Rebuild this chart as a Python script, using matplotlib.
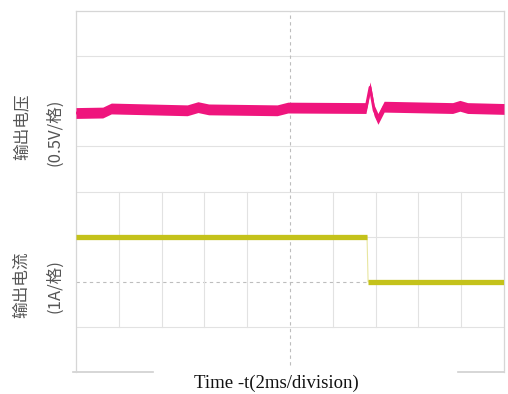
import numpy as np
import matplotlib
matplotlib.use("Agg")
import matplotlib.pyplot as plt

plt.rcParams["font.family"] = ["Noto Sans CJK SC", "DejaVu Sans"]

# output voltage trace (time in ms, level in divisions from bottom)
volt_t = [0.0, 1.25, 1.65, 5.2, 5.7, 6.2, 9.4, 9.9, 13.55, 13.74, 13.93, 14.11, 14.40, 17.6, 17.94, 18.3, 20.0]
volt_y = [5.74, 5.75, 5.84, 5.80, 5.87, 5.82, 5.80, 5.86, 5.85, 6.31, 5.80, 5.61, 5.88, 5.85, 5.90, 5.85, 5.83]

# output current trace: load step down
curr_t = [0.0, 13.6, 13.65, 20.0]
curr_y = [3.0, 3.0, 2.0, 2.0]

x_label = "Time -t(2ms/division)"
v_label = ["输出电压", "(0.5V/格)"]
i_label = ["输出电流", "(1A/格)"]

magenta = "#ef157d"
olive = "#c4c21b"
grid_c = "#e2e2e2"

fig = plt.figure(figsize=(5.08, 3.94), dpi=100)
ax = fig.add_axes([0.1496, 0.0558, 0.8425, 0.9162])
ax.set_xlim(0, 20)
ax.set_ylim(0, 8)
ax.set_xticks([])
ax.set_yticks([])

for s in ["left", "top", "right"]:
    ax.spines[s].set_color("#d6d6d6")
    ax.spines[s].set_linewidth(0.9)
ax.spines["bottom"].set_visible(False)
ax.axhline(0, xmin=-0.007, xmax=0.18, color="#cfcfcf", lw=1.2, clip_on=False)
ax.axhline(0, xmin=0.893, xmax=1.0, color="#cfcfcf", lw=1.2, clip_on=False)

# graticule
for yy in [1, 3, 4, 5, 7]:
    ax.axhline(yy, color=grid_c, lw=0.8, zorder=0)
ax.axhline(2, color="#bdbdbd", lw=0.8, ls=(0, (3, 3)), zorder=0)
for xx in [2, 4, 6, 8, 12, 14, 16, 18]:
    ax.plot([xx, xx], [1, 4], color=grid_c, lw=0.8, zorder=0)
ax.axvline(10, ymin=0.02, color="#bdbdbd", lw=0.8, ls=(0, (3, 3)), zorder=0)

# voltage band
vt = np.array(volt_t)
vy = np.array(volt_y)
ax.fill_between(vt, vy - 0.12, vy + 0.12, color=magenta, lw=0, zorder=3)
ax.plot(vt, vy, color=magenta, lw=2.0, zorder=3)

# current
ax.plot(curr_t, curr_y, color="#e8e6a0", lw=0.8, zorder=2)
ax.plot(curr_t[:2], curr_y[:2], color=olive, lw=3.8, solid_capstyle="butt", zorder=3)
ax.plot(curr_t[2:], curr_y[2:], color=olive, lw=3.8, solid_capstyle="butt", zorder=3)

lab_kw = dict(rotation=90, ha="center", va="center", fontsize=12, color="#555555")
fig.text(22 / 508, 1 - 127 / 394, v_label[0], **lab_kw)
fig.text(55 / 508, 1 - 132 / 394, v_label[1], **lab_kw)
fig.text(22 / 508, 1 - 285 / 394, i_label[0], **lab_kw)
fig.text(55 / 508, 1 - 286 / 394, i_label[1], **lab_kw)

fig.text(276 / 508, 1 - 383 / 394, x_label, ha="center", va="center",
         fontsize=13.5, family="Liberation Serif", color="#111111")

fig.savefig("out.png", dpi=100)
